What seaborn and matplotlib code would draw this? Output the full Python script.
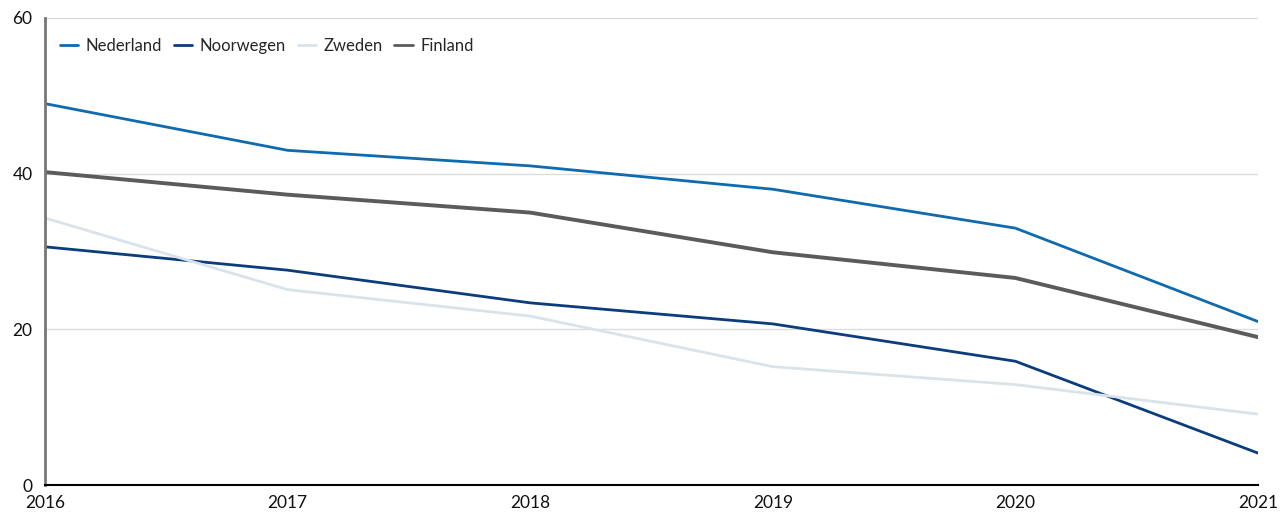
import matplotlib
matplotlib.use("Agg")
import matplotlib.pyplot as plt
import seaborn as sns
import pandas as pd

years = [2016, 2017, 2018, 2019, 2020, 2021]
nederland = [49.0, 43.0, 41.0, 38.0, 33.0, 21.0]
noorwegen = [30.6, 27.6, 23.4, 20.7, 15.9, 4.1]
zweden = [34.3, 25.1, 21.7, 15.2, 12.9, 9.1]
finland = [40.2, 37.3, 35.0, 29.9, 26.6, 19.0]
series_names = ["Nederland", "Noorwegen", "Zweden", "Finland"]
y_ticks = [0, 20, 40, 60]

colors = {"Nederland": "#0f6aae", "Noorwegen": "#0b3c7c", "Zweden": "#dae3ea", "Finland": "#5b5b5b"}
widths = {"Nederland": 2.0, "Noorwegen": 2.0, "Zweden": 2.0, "Finland": 2.8}

df = pd.DataFrame({"jaar": years * 4,
                   "waarde": nederland + noorwegen + zweden + finland,
                   "land": sum([[n] * len(years) for n in series_names], [])})

sns.set_style("white")
plt.rcParams["font.family"] = ["Lato", "DejaVu Sans"]

fig = plt.figure(figsize=(12.82, 5.16), dpi=100)
ax = fig.add_axes([45 / 1282, 31 / 516, 1213 / 1282, 467 / 516])

for name in series_names:
    sub = df[df["land"] == name]
    sns.lineplot(data=sub, x="jaar", y="waarde", ax=ax, color=colors[name],
                 linewidth=widths[name], label=name)

ax.set_xlim(2016, 2021)
ax.set_ylim(0, 60)
ax.set_yticks(y_ticks)
ax.set_xticks(years)
ax.set_xlabel("")
ax.set_ylabel("")
ax.grid(axis="y", color="#dcdcdc", linewidth=1)
ax.grid(axis="x", visible=False)
for s in ["top", "right"]:
    ax.spines[s].set_visible(False)
ax.spines["left"].set_color("#777777")
ax.spines["left"].set_linewidth(2)
ax.spines["bottom"].set_color("#000000")
ax.spines["bottom"].set_linewidth(1.5)
ax.tick_params(axis="y", length=0, pad=9, labelsize=12.5, colors="#111111")
ax.tick_params(axis="x", length=0, pad=7, labelsize=12.5, colors="#111111")

leg = ax.legend(loc="upper left", ncol=4, frameon=False, fontsize=12,
                handlelength=1.1, handletextpad=0.45, columnspacing=0.7,
                bbox_to_anchor=(0.0, 0.99))
for line in leg.get_lines():
    line.set_linewidth(2)

fig.savefig("out.png", dpi=100)
